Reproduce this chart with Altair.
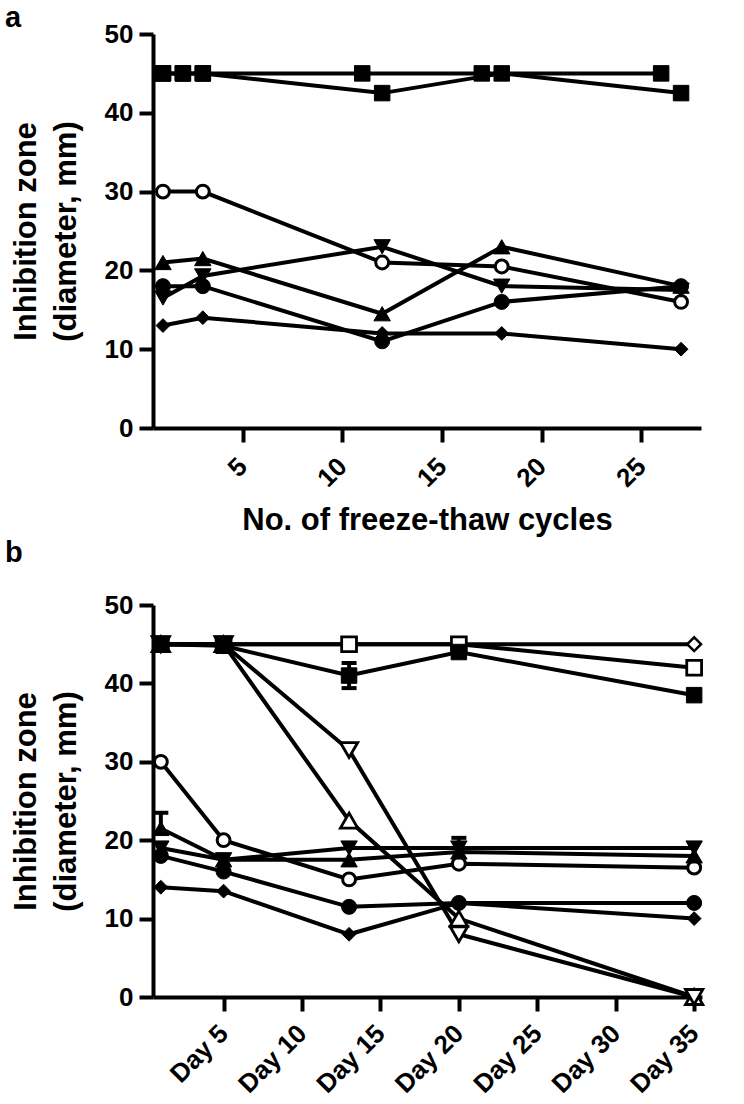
import altair as alt
import pandas as pd

FONT = "Liberation Sans"

# ---- panel a: inhibition zone after repeated freeze-thaw cycles ----
a_sq45_cycles = [1, 2, 3, 11, 17, 26]
a_sq45_zone = [45, 45, 45, 45, 45, 45]
a_sq_cycles = [1, 2, 3, 12, 18, 27]
a_sq_zone = [45, 45, 45, 42.5, 45, 42.5]
a_cycles = [1, 3, 12, 18, 27]
a_open_circle = [30, 30, 21, 20.5, 16]
a_tri_up = [21, 21.5, 14.5, 23, 18]
a_tri_down = [16.5, 19.3, 23, 18, 17.5]
a_circle = [18, 18, 11, 16, 18]
a_diamond = [13, 14, 12, 12, 10]
a_xticks = [5, 10, 15, 20, 25]

# ---- panel b: inhibition zone over storage days ----
b_days = [1, 5, 13, 20, 35]
b_open_diamond = [45, 45, 45, 45, 45]
b_open_square = [45, 45, 45, 45, 42]
b_open_tri_up = [45, 45, 22.5, 10, 0]
b_open_tri_down = [45, 45, 31.5, 8, 0]
b_open_circle = [30, 20, 15, 17, 16.5]
b_tri_up = [21.5, 17.5, 17.5, 18.5, 18]
b_tri_down = [19, 17.5, 19, 19, 19]
b_circle = [18, 16, 11.5, 12, 12]
b_diamond = [14, 13.5, 8, 12, 10]
b_square = [45, 44.8, 41, 44, 38.5]
b_xticks = [5, 10, 15, 20, 25, 30, 35]

# error bars of panel b: mean, lower and upper ends
b_err_day = [1, 13, 20]
b_err_mean = [21.5, 41, 19]
b_err_low = [21.5, 39.4, 19]
b_err_high = [23.5, 42.6, 20.3]

y_ticks = [0, 10, 20, 30, 40, 50]

# marker style per series: (shape, fill, size, stroke width)
STYLE = {
    "open_diamond": ("diamond", "white", 190, 2.5),
    "open_square": ("square", "white", 220, 2.8),
    "open_tri_up": ("triangle-up", "white", 300, 2.8),
    "open_tri_down": ("triangle-down", "white", 300, 2.8),
    "open_circle": ("circle", "white", 165, 3),
    "tri_up": ("triangle-up", "black", 270, 1),
    "tri_down": ("triangle-down", "black", 270, 1),
    "circle": ("circle", "black", 225, 1),
    "diamond": ("diamond", "black", 190, 1),
    "square": ("square", "black", 240, 1),
}

panel_a_series = [
    ("open_circle", "open_circle", a_cycles, a_open_circle),
    ("tri_up", "tri_up", a_cycles, a_tri_up),
    ("tri_down", "tri_down", a_cycles, a_tri_down),
    ("circle", "circle", a_cycles, a_circle),
    ("diamond", "diamond", a_cycles, a_diamond),
    ("sq45", "square", a_sq45_cycles, a_sq45_zone),
    ("sq", "square", a_sq_cycles, a_sq_zone),
]

panel_b_series = [
    ("open_diamond", "open_diamond", b_days, b_open_diamond),
    ("open_square", "open_square", b_days, b_open_square),
    ("open_tri_up", "open_tri_up", b_days, b_open_tri_up),
    ("open_tri_down", "open_tri_down", b_days, b_open_tri_down),
    ("open_circle", "open_circle", b_days, b_open_circle),
    ("tri_up", "tri_up", b_days, b_tri_up),
    ("tri_down", "tri_down", b_days, b_tri_down),
    ("circle", "circle", b_days, b_circle),
    ("diamond", "diamond", b_days, b_diamond),
    ("square", "square", b_days, b_square),
]

LINE_W = 4


def series_frame(name, xs, ys):
    return pd.DataFrame({"series": name, "x": xs, "y": ys})


def build_panel(series, xdomain, x_axis, extra=()):
    x_enc = alt.X("x:Q", scale=alt.Scale(domain=xdomain, nice=False, zero=False), axis=x_axis)
    y_enc = alt.Y(
        "y:Q",
        scale=alt.Scale(domain=[0, 50], nice=False, zero=False),
        axis=alt.Axis(
            values=y_ticks,
            title=["Inhibition zone", "(diameter, mm)"],
            titlePadding=22,
            titleLineHeight=40,
            labelPadding=6,
        ),
    )
    all_df = pd.concat([series_frame(n, xs, ys) for n, _, xs, ys in series], ignore_index=True)
    lines = alt.Chart(all_df).mark_line(color="black", strokeWidth=LINE_W, clip=False).encode(
        x=x_enc, y=y_enc, detail="series:N"
    )
    layers = [lines]
    layers.extend(extra)
    for name, style, xs, ys in series:
        shape, fill, size, sw = STYLE[style]
        pts = alt.Chart(series_frame(name, xs, ys)).mark_point(
            shape=shape, size=size, filled=True, fill=fill, stroke="black",
            strokeWidth=sw, opacity=1, clip=False,
        ).encode(x=x_enc, y=y_enc)
        layers.append(pts)
    return layers


def panel_letter(letter, ypix):
    return alt.Chart(pd.DataFrame({"t": [letter]})).mark_text(
        font=FONT, fontSize=29, fontWeight="bold", align="left", baseline="alphabetic", color="black"
    ).encode(text="t:N", x=alt.value(-148), y=alt.value(ypix))


A_W, A_H = 548, 394
B_W, B_H = 549, 392

axis_a = alt.Axis(
    values=a_xticks, labelAngle=-45, labelAlign="right", labelBaseline="middle",
    labelPadding=20, title="No. of freeze-thaw cycles", titlePadding=14,
)
layers_a = build_panel(panel_a_series, [0.5, 28], axis_a)
layers_a.append(panel_letter("a", -7))
layers_a.append(panel_letter("b", 528))
chart_a = alt.layer(*layers_a).properties(width=A_W, height=A_H)

axis_b = alt.Axis(
    values=b_xticks, labelAngle=-45, labelAlign="right", labelBaseline="middle",
    labelPadding=18, labelExpr="'Day ' + datum.value", title=None,
)

err_df = pd.DataFrame({"x": b_err_day, "mean": b_err_mean, "low": b_err_low, "high": b_err_high})
cap_rows = []
for d, m, lo, hi in zip(b_err_day, b_err_mean, b_err_low, b_err_high):
    cap_rows.append({"x": d, "y": hi})
    if lo < m:
        cap_rows.append({"x": d, "y": lo})
cap_df = pd.DataFrame(cap_rows)

xb = alt.X("x:Q", scale=alt.Scale(domain=[0.5, 35.5], nice=False, zero=False), axis=axis_b)
yb_scale = alt.Scale(domain=[0, 50], nice=False, zero=False)
err_bars = alt.Chart(err_df).mark_rule(color="black", strokeWidth=LINE_W).encode(
    x=xb, y=alt.Y("low:Q", scale=yb_scale), y2="high:Q"
)
err_caps = alt.Chart(cap_df).mark_point(
    shape="M-1,0L1,0", size=225, filled=False, stroke="black", strokeWidth=LINE_W, opacity=1
).encode(x=xb, y=alt.Y("y:Q", scale=yb_scale))

layers_b = build_panel(panel_b_series, [0.5, 35.5], axis_b, extra=(err_bars, err_caps))
chart_b = alt.layer(*layers_b).properties(width=B_W, height=B_H)

chart = (
    alt.vconcat(chart_a, chart_b, spacing=24)
    .properties(padding={"left": 5, "top": 4, "right": 5, "bottom": 0}, background="white")
    .configure_axis(
        domainColor="black", domainWidth=4, tickColor="black", tickWidth=4, tickSize=14,
        labelFont=FONT, labelFontSize=26, labelFontWeight="bold", labelColor="black",
        titleFont=FONT, titleFontSize=31, titleFontWeight="bold", titleColor="black",
        grid=False, labelFlush=False, labelOverlap=False,
    )
    .configure_view(stroke=None)
)

chart.save("out.html", embed_options={"renderer": "svg", "actions": False})
